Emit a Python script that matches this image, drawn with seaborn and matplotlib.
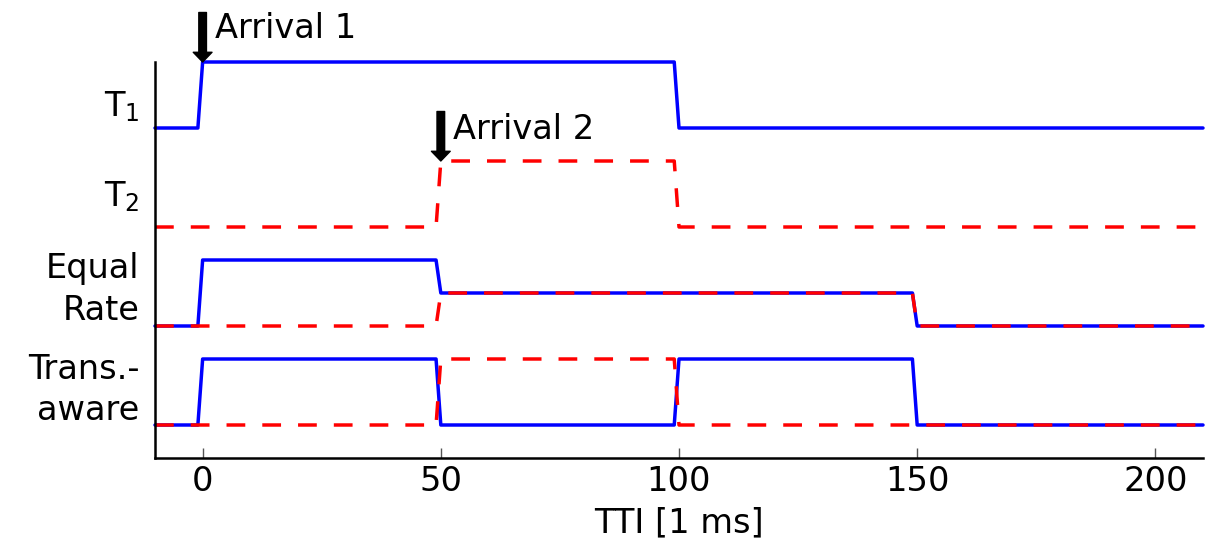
import matplotlib
matplotlib.use("Agg")
import matplotlib.pyplot as plt
import seaborn as sns
import pandas as pd

# ---- data (change points of each step signal) ----
t1_x = [-10, -1, 0, 99, 100, 210]
t1_y = [0, 0, 1, 1, 0, 0]
t2_x = [-10, 49, 50, 99, 100, 210]
t2_y = [0, 0, 1, 1, 0, 0]
eq_u1_x = [-10, -1, 0, 49, 50, 149, 150, 210]
eq_u1_y = [0, 0, 1, 1, 0.5, 0.5, 0, 0]
eq_u2_x = [-10, 49, 50, 149, 150, 210]
eq_u2_y = [0, 0, 0.5, 0.5, 0, 0]
ta_u1_x = [-10, -1, 0, 49, 50, 99, 100, 149, 150, 210]
ta_u1_y = [0, 0, 1, 1, 0, 0, 1, 1, 0, 0]
ta_u2_x = [-10, 49, 50, 99, 100, 210]
ta_u2_y = [0, 0, 1, 1, 0, 0]

row_offsets = {"T1": 4.5, "T2": 3.0, "Equal": 1.5, "Trans": 0.0}
row_labels = ["Trans.-\naware", "Equal\nRate", "$\\mathregular{T_2}$", "$\\mathregular{T_1}$"]
row_label_pos = [0.53, 2.05, 3.46, 4.83]
x_ticks = [0, 50, 100, 150, 200]
arrivals_x = [0, 50]
arrival_labels = ["Arrival 1", "Arrival 2"]

sns.set_style("ticks")
plt.rcParams["font.family"] = ["DejaVu Sans"]
plt.rcParams["mathtext.default"] = "regular"
plt.rcParams["text.color"] = "black"
plt.rcParams["axes.labelcolor"] = "black"
plt.rcParams["xtick.labelcolor"] = "black"
plt.rcParams["ytick.labelcolor"] = "black"
FS = 24.2

fig = plt.figure(figsize=(12.12, 5.43), dpi=100)
ax = fig.add_axes([155 / 1212, 1 - 458 / 543, (1203 - 155) / 1212, (458 - 62) / 543])

BLUE = "#0000ff"
RED = "#ff0000"
LW = 2.5
DASH = (0, (5.4, 4.9))

series = [
    (t1_x, t1_y, "T1", BLUE, "-"),
    (t2_x, t2_y, "T2", RED, DASH),
    (eq_u1_x, eq_u1_y, "Equal", BLUE, "-"),
    (eq_u2_x, eq_u2_y, "Equal", RED, DASH),
    (ta_u1_x, ta_u1_y, "Trans", BLUE, "-"),
    (ta_u2_x, ta_u2_y, "Trans", RED, DASH),
]
for xs, ys, row, col, ls in series:
    df = pd.DataFrame({"x": xs, "y": [v + row_offsets[row] for v in ys]})
    sns.lineplot(data=df, x="x", y="y", ax=ax, color=col, linewidth=LW,
                 linestyle=ls, sort=False, estimator=None, clip_on=False)

ax.set_xlim(-10, 210)
ax.set_ylim(-0.5, 5.5)
ax.set_xticks(x_ticks)
ax.set_xticklabels([str(v) for v in x_ticks], fontsize=FS)
ax.set_yticks(row_label_pos)
ax.set_yticklabels(row_labels, fontsize=FS, ha="right", va="center")
for lab in ax.get_yticklabels():
    lab.set_verticalalignment("center")
    lab.set_linespacing(1.33)
ax.tick_params(axis="x", direction="in", length=7, width=1, color="#555555", pad=5)
ax.tick_params(axis="y", length=0, pad=11)
ax.set_xlabel("TTI [1 ms]", fontsize=FS, labelpad=6)
ax.set_ylabel("")
for s in ["top", "right"]:
    ax.spines[s].set_visible(False)
for s in ["left", "bottom"]:
    ax.spines[s].set_linewidth(1.8)
    ax.spines[s].set_color("black")

# arrival arrows
arrow_tips = [5.5, 4.0]
text_offsets = [0.5, 0.47]
for ax_x, tip, off, lab in zip(arrivals_x, arrow_tips, text_offsets, arrival_labels):
    ax.annotate("", xy=(ax_x, tip), xytext=(ax_x, tip + 0.75),
                arrowprops=dict(facecolor="black", edgecolor="black",
                                width=5.5, headwidth=13.5, headlength=7, shrink=0),
                annotation_clip=False)
    ax.text(ax_x + 2.5, tip + off, lab, fontsize=FS, ha="left", va="center",
            clip_on=False)

fig.savefig("out.png", dpi=100)
